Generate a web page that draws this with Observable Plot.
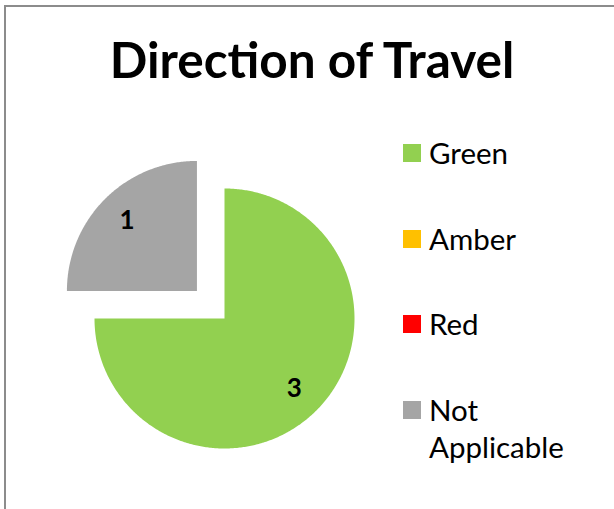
<!DOCTYPE html>
<html><head><meta charset="utf-8">
<script src="https://cdn.jsdelivr.net/npm/d3@7"></script>
<script src="https://cdn.jsdelivr.net/npm/@observablehq/plot@0.6"></script>
<style>
body{margin:0;width:614px;height:509px;overflow:hidden;background:#fff;font-family:Lato,"Open Sans",sans-serif;position:relative}
#frame{position:absolute;left:4px;top:5px;width:700px;height:600px;border:2px solid #8c8c8c;box-sizing:border-box}
#title{position:absolute;left:0;width:624px;top:35px;text-align:center;font-weight:700;font-size:49.5px;line-height:1;color:#000;white-space:nowrap}
#chart{position:absolute;left:0;top:120px}
#chart svg{overflow:visible}
#legend{position:absolute;left:403px;top:134px}
.item{display:flex;align-items:flex-start;height:85.67px}
.sw{width:18px;height:18px;margin-top:10px;margin-right:8px;flex:none}
.lab{font-size:29.5px;line-height:37px;width:160px;color:#000}
</style></head><body>
<div id="frame"></div>
<div id="title"></div>
<div id="chart"></div>
<div id="legend"></div>
<script>
const titleText = "Direction of Travel";
const categories = ["Green", "Amber", "Red", "Not Applicable"];
const values = [3, 0, 0, 1];
const colors = ["#92d050", "#ffc000", "#ff0000", "#a5a5a5"];
const explodedCategory = "Not Applicable";

const R = 130, EXPLODE = 39, LABEL_R = 0.76;
const rows = categories.map((cat, i) => ({cat, value: values[i]}));
const arcs = d3.pie().sort(null).value(d => d.value)(rows);

const polys = [];
const labels = [];
for (const a of arcs) {
  if (a.data.value <= 0) continue;
  const mid = (a.startAngle + a.endAngle) / 2;
  const off = a.data.cat === explodedCategory ? EXPLODE : 0;
  const ox = off * Math.sin(mid), oy = off * Math.cos(mid);
  polys.push({cat: a.data.cat, x: ox, y: oy});
  const n = Math.max(2, Math.ceil((a.endAngle - a.startAngle) / 0.01));
  for (let k = 0; k <= n; k++) {
    const t = a.startAngle + (a.endAngle - a.startAngle) * k / n;
    polys.push({cat: a.data.cat, x: ox + R * Math.sin(t), y: oy + R * Math.cos(t)});
  }
  labels.push({cat: a.data.cat, text: String(a.data.value),
    x: ox + LABEL_R * R * Math.sin(mid), y: oy + LABEL_R * R * Math.cos(mid)});
}

const chart = Plot.plot({
  width: 380, height: 380, margin: 0,
  x: {domain: [-224, 156], axis: null},
  y: {domain: [-182, 198], axis: null},
  color: {domain: categories, range: colors},
  style: {fontFamily: "Lato, 'Open Sans', sans-serif", background: "transparent"},
  marks: [
    Plot.line(polys, {x: "x", y: "y", z: "cat", fill: "cat", stroke: "none", curve: "linear-closed"}),
    Plot.text(labels, {x: "x", y: "y", text: "text", fill: "#000", fontSize: 26, fontWeight: "bold"})
  ]
});
document.getElementById("chart").appendChild(chart);
document.getElementById("title").textContent = titleText;

const legend = document.getElementById("legend");
categories.forEach((c, i) => {
  const item = document.createElement("div");
  item.className = "item";
  const sw = document.createElement("div");
  sw.className = "sw";
  sw.style.background = colors[i];
  const lab = document.createElement("div");
  lab.className = "lab";
  lab.textContent = c;
  item.appendChild(sw); item.appendChild(lab);
  legend.appendChild(item);
});
</script>
</body></html>
